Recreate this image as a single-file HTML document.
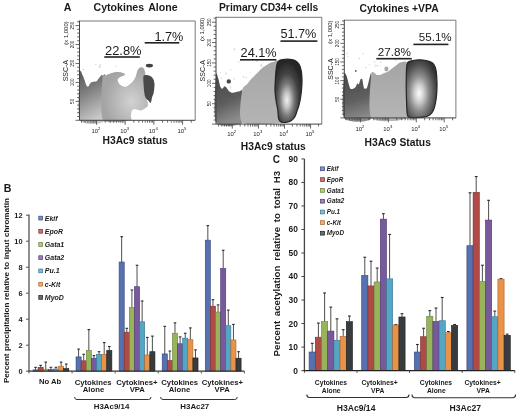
<!DOCTYPE html>
<html><head><meta charset="utf-8">
<style>
html,body{margin:0;padding:0;background:#fff;}
body{width:520px;height:413px;overflow:hidden;position:relative;}
svg{position:absolute;left:0;top:0;filter:blur(0.3px);}
.tb{font-family:"Liberation Sans",sans-serif;font-weight:bold;fill:#1a1a1a;}
.tbi{font-family:"Liberation Sans",sans-serif;font-weight:bold;font-style:italic;fill:#1a1a1a;}
.tr{font-family:"Liberation Sans",sans-serif;fill:#1a1a1a;}
</style></head><body>
<svg width="520" height="413" viewBox="0 0 520 413">
<defs>
<linearGradient id="gdark1" x1="0" y1="0" x2="0.3" y2="1"><stop offset="0" stop-color="#555"/><stop offset="0.4" stop-color="#7a7a7a"/><stop offset="1" stop-color="#c8c8c8"/></linearGradient>
<radialGradient id="glight1" cx="0.65" cy="0.62" r="0.6"><stop offset="0" stop-color="#d2d2d2"/><stop offset="1" stop-color="#a4a4a4"/></radialGradient>
<linearGradient id="gdark2" x1="0" y1="0" x2="0.25" y2="1"><stop offset="0" stop-color="#464646"/><stop offset="0.6" stop-color="#5c5c5c"/><stop offset="1" stop-color="#8c8c8c"/></linearGradient>
<linearGradient id="glight2" x1="0" y1="0" x2="0" y2="1"><stop offset="0" stop-color="#a6a6a6"/><stop offset="1" stop-color="#b4b4b4"/></linearGradient>
<radialGradient id="gblob2" cx="0.45" cy="0.63" r="0.6" fx="0.44" fy="0.65"><stop offset="0" stop-color="#f0f0f0"/><stop offset="0.2" stop-color="#c4c4c4"/><stop offset="0.45" stop-color="#747474"/><stop offset="0.7" stop-color="#424242"/><stop offset="1" stop-color="#262626"/></radialGradient>
<linearGradient id="gdark3" x1="0" y1="0" x2="0.2" y2="1"><stop offset="0" stop-color="#4a4a4a"/><stop offset="0.6" stop-color="#5e5e5e"/><stop offset="1" stop-color="#8a8a8a"/></linearGradient>
<linearGradient id="glight3" x1="0" y1="0" x2="0" y2="1"><stop offset="0" stop-color="#a4a4a4"/><stop offset="1" stop-color="#b6b6b6"/></linearGradient>
<radialGradient id="gblob3" cx="0.42" cy="0.58" r="0.62" fx="0.42" fy="0.58"><stop offset="0" stop-color="#fbfbfb"/><stop offset="0.22" stop-color="#d4d4d4"/><stop offset="0.5" stop-color="#8c8c8c"/><stop offset="0.78" stop-color="#565656"/><stop offset="1" stop-color="#333"/></radialGradient>
<filter id="bl" x="-5%" y="-5%" width="110%" height="110%"><feGaussianBlur stdDeviation="0.5"/></filter>
</defs>
<text x="63.8" y="11" class="tb" font-size="10.6">A</text>
<text x="93.5" y="11.3" class="tb" font-size="10.6" word-spacing="1.5">Cytokines Alone</text>
<text x="219" y="11.4" class="tb" font-size="10.3">Primary CD34+ cells</text>
<text x="359.5" y="11.8" class="tb" font-size="10.4">Cytokines +VPA</text>
<g><circle cx="230.9" cy="69.8" r="0.65" fill="#d6d6d6"/><circle cx="250.6" cy="73.0" r="0.53" fill="#d6d6d6"/><circle cx="218.7" cy="81.5" r="0.60" fill="#d6d6d6"/><circle cx="230.7" cy="87.8" r="0.69" fill="#d6d6d6"/><circle cx="263.2" cy="67.1" r="0.76" fill="#d6d6d6"/><circle cx="226.1" cy="73.4" r="0.85" fill="#d6d6d6"/><circle cx="246.3" cy="77.7" r="0.77" fill="#d6d6d6"/><circle cx="221.5" cy="78.3" r="0.74" fill="#d6d6d6"/><circle cx="234.3" cy="49.2" r="0.85" fill="#d6d6d6"/><circle cx="243.5" cy="76.8" r="0.85" fill="#d6d6d6"/><circle cx="256.6" cy="84.8" r="0.66" fill="#d6d6d6"/><circle cx="261.2" cy="65.8" r="0.87" fill="#d6d6d6"/><circle cx="265.5" cy="51.9" r="0.55" fill="#d6d6d6"/><circle cx="229.7" cy="86.6" r="0.67" fill="#d6d6d6"/><circle cx="251.8" cy="60.0" r="0.70" fill="#d6d6d6"/><circle cx="238.8" cy="62.0" r="0.73" fill="#d6d6d6"/><circle cx="249.5" cy="84.2" r="0.77" fill="#d6d6d6"/><circle cx="268.2" cy="82.3" r="0.90" fill="#d6d6d6"/><circle cx="254.2" cy="54.5" r="0.84" fill="#d6d6d6"/><circle cx="270.1" cy="84.2" r="0.73" fill="#d6d6d6"/><circle cx="256.5" cy="56.4" r="0.83" fill="#d6d6d6"/><circle cx="249.0" cy="59.4" r="0.53" fill="#d6d6d6"/><circle cx="264.1" cy="87.6" r="0.54" fill="#d6d6d6"/><circle cx="261.2" cy="64.4" r="0.56" fill="#d6d6d6"/><circle cx="233.9" cy="78.8" r="0.85" fill="#d6d6d6"/><circle cx="220.4" cy="72.6" r="0.52" fill="#d6d6d6"/><circle cx="256.8" cy="61.2" r="0.85" fill="#d6d6d6"/><circle cx="271.0" cy="68.2" r="0.90" fill="#d6d6d6"/><circle cx="363.3" cy="53.7" r="0.74" fill="#d6d6d6"/><circle cx="347.8" cy="56.3" r="0.66" fill="#d6d6d6"/><circle cx="380.2" cy="55.4" r="0.52" fill="#d6d6d6"/><circle cx="394.6" cy="58.9" r="0.88" fill="#d6d6d6"/><circle cx="396.2" cy="60.3" r="0.68" fill="#d6d6d6"/><circle cx="375.1" cy="66.2" r="0.74" fill="#d6d6d6"/><circle cx="377.3" cy="65.6" r="0.88" fill="#d6d6d6"/><circle cx="374.4" cy="61.5" r="0.79" fill="#d6d6d6"/><circle cx="359.3" cy="58.6" r="0.89" fill="#d6d6d6"/><circle cx="375.2" cy="64.1" r="0.50" fill="#d6d6d6"/><circle cx="369.3" cy="64.8" r="0.51" fill="#d6d6d6"/><circle cx="380.5" cy="65.9" r="0.52" fill="#d6d6d6"/><circle cx="381.1" cy="62.3" r="0.77" fill="#d6d6d6"/><circle cx="365.7" cy="67.6" r="0.80" fill="#d6d6d6"/><circle cx="347.2" cy="53.3" r="0.77" fill="#d6d6d6"/><circle cx="399.9" cy="57.5" r="0.68" fill="#d6d6d6"/><circle cx="116.4" cy="66.2" r="0.65" fill="#d6d6d6"/><circle cx="100.1" cy="66.8" r="0.74" fill="#d6d6d6"/><circle cx="99.4" cy="66.9" r="0.81" fill="#d6d6d6"/><circle cx="83.6" cy="69.4" r="0.79" fill="#d6d6d6"/><circle cx="100.0" cy="64.9" r="0.82" fill="#d6d6d6"/><circle cx="95.8" cy="64.4" r="0.67" fill="#d6d6d6"/></g>
<g filter="url(#bl)">
<path d="M80.00,72.60 C80.29,67.35 81.97,74.14 82.50,75.00 C83.03,75.86 84.09,78.89 84.50,80.00 C84.91,81.11 85.59,83.71 86.00,84.50 C86.41,85.29 87.47,86.97 88.00,86.80 C88.53,86.62 89.92,83.58 90.50,83.00 C91.08,82.42 92.30,82.00 93.00,81.80 C93.70,81.60 95.80,81.74 96.50,81.30 C97.20,80.86 98.42,78.71 99.00,78.00 C99.58,77.29 100.97,75.48 101.50,75.20 C102.03,74.92 103.09,75.44 103.50,75.60 C103.91,75.76 104.77,71.42 105.00,76.60 C105.23,81.78 108.42,114.94 105.50,120.00 C102.58,125.06 82.97,125.53 80.00,120.00 C77.03,114.47 79.71,77.85 80.00,72.60 Z" fill="url(#gdark1)"/>
<path d="M102.50,77.00 C102.67,71.84 103.68,76.17 104.50,75.80 C105.32,75.43 108.17,74.24 109.50,73.80 C110.83,73.36 114.61,72.17 115.90,72.00 C117.20,71.83 119.54,72.07 120.60,72.30 C121.66,72.53 124.64,73.59 125.00,74.00 C125.36,74.41 124.34,75.40 123.70,75.80 C123.06,76.20 120.21,76.95 119.50,77.40 C118.79,77.86 117.66,78.99 117.60,79.70 C117.54,80.41 118.46,82.77 119.00,83.50 C119.54,84.23 121.47,85.61 122.20,86.00 C122.94,86.39 124.56,86.89 125.30,86.80 C126.03,86.71 127.67,85.76 128.50,85.20 C129.33,84.64 131.58,82.96 132.40,82.00 C133.22,81.04 134.91,78.34 135.50,77.00 C136.09,75.66 136.94,71.63 137.50,70.50 C138.06,69.37 139.60,67.60 140.30,67.30 C141.00,67.00 142.93,67.28 143.50,67.90 C144.07,68.52 144.97,70.60 145.20,72.60 C145.43,74.59 145.35,82.04 145.50,85.00 C145.65,87.96 146.23,95.90 146.50,98.00 C146.77,100.10 147.70,102.01 147.80,103.00 C147.91,103.99 148.19,105.62 147.40,106.50 C146.61,107.38 142.47,110.21 141.00,110.50 C139.53,110.79 135.87,108.97 134.80,109.00 C133.73,109.03 132.27,109.89 131.80,110.80 C131.33,111.71 130.98,115.73 130.80,116.80 C130.62,117.87 133.54,119.63 130.30,120.00 C127.06,120.37 106.24,125.02 103.00,120.00 C99.76,114.98 102.33,82.16 102.50,77.00 Z" fill="url(#glight1)"/>
<path d="M143.50,76.00 C143.97,74.93 146.00,74.93 147.00,75.00 C148.00,75.07 150.13,75.90 151.00,76.50 C151.87,77.10 153.03,78.50 153.50,79.50 C153.97,80.50 154.41,82.73 154.50,84.00 C154.59,85.27 154.33,87.73 154.20,89.00 C154.07,90.27 153.79,92.37 153.50,93.50 C153.21,94.63 152.27,96.57 152.00,97.50 C151.73,98.43 151.73,99.77 151.50,100.50 C151.27,101.23 150.66,102.93 150.30,103.00 C149.94,103.07 149.31,101.53 148.80,101.00 C148.29,100.47 147.03,99.73 146.50,99.00 C145.97,98.27 145.13,96.70 144.80,95.50 C144.47,94.30 144.17,91.67 144.00,90.00 C143.83,88.33 143.57,84.87 143.50,83.00 C143.43,81.13 143.03,77.07 143.50,76.00 Z" fill="#4a4a4a"/>
<ellipse cx="149.4" cy="65.6" rx="3.6" ry="1.9" fill="#3f3f3f"/>
</g>
<g filter="url(#bl)">
<path d="M216.00,75.10 C216.26,69.95 217.70,76.95 218.20,78.30 C218.70,79.65 219.81,85.48 220.30,86.70 C220.79,87.92 221.91,88.85 222.40,88.80 C222.89,88.75 224.01,86.42 224.50,86.30 C224.99,86.18 226.10,87.25 226.60,87.80 C227.10,88.35 228.18,90.43 228.80,91.00 C229.42,91.57 231.04,92.58 231.90,92.70 C232.76,92.82 235.21,92.20 236.20,92.00 C237.19,91.80 239.68,91.07 240.40,91.00 C241.12,90.93 242.14,87.74 242.40,91.40 C242.66,95.06 245.68,118.78 242.60,122.40 C239.52,126.02 219.10,127.92 216.00,122.40 C212.90,116.88 215.74,80.24 216.00,75.10 Z" fill="url(#gdark2)"/>
<path d="M242.10,91.00 C242.61,86.59 245.54,86.08 246.70,84.60 C247.85,83.12 250.76,79.65 252.00,78.30 C253.24,76.95 256.19,74.11 257.30,73.00 C258.41,71.89 260.51,69.66 261.50,68.80 C262.49,67.94 264.81,66.28 265.80,65.60 C266.79,64.92 269.02,63.44 270.00,63.00 C270.98,62.56 273.21,61.99 274.20,61.80 C275.19,61.61 278.06,59.28 278.50,61.40 C278.94,63.52 278.12,75.50 278.00,80.00 C277.88,84.50 277.38,96.27 277.50,100.00 C277.62,103.73 278.48,109.39 279.00,112.00 C279.52,114.61 286.28,121.19 282.00,122.40 C277.72,123.61 246.96,126.06 242.30,122.40 C237.65,118.74 241.59,95.41 242.10,91.00 Z" fill="url(#glight2)"/>
<path d="M278.00,61.50 C279.12,60.08 281.00,59.87 283.00,59.50 C285.00,59.13 287.92,59.08 290.00,59.30 C292.08,59.52 293.97,59.93 295.50,60.80 C297.03,61.67 298.23,62.80 299.20,64.50 C300.17,66.20 300.83,68.42 301.30,71.00 C301.77,73.58 301.95,77.00 302.00,80.00 C302.05,83.00 301.83,86.08 301.60,89.00 C301.37,91.92 301.03,94.83 300.60,97.50 C300.17,100.17 299.60,102.75 299.00,105.00 C298.40,107.25 297.67,109.08 297.00,111.00 C296.33,112.92 295.92,114.92 295.00,116.50 C294.08,118.08 293.00,119.53 291.50,120.50 C290.00,121.47 287.75,122.05 286.00,122.30 C284.25,122.55 282.23,122.63 281.00,122.00 C279.77,121.37 279.13,120.50 278.60,118.50 C278.07,116.50 278.20,112.83 277.80,110.00 C277.40,107.17 276.67,104.67 276.20,101.50 C275.73,98.33 275.15,94.52 275.00,91.00 C274.85,87.48 275.08,84.23 275.30,80.40 C275.52,76.57 275.85,71.15 276.30,68.00 C276.75,64.85 276.88,62.92 278.00,61.50 Z" fill="url(#gblob2)" stroke="#262626" stroke-width="1.2"/>
<circle cx="228.8" cy="81.4" r="2.2" fill="#4a4a4a"/>
</g>
<g filter="url(#bl)">
<path d="M344.10,75.10 C344.40,70.22 346.21,75.34 346.70,76.20 C347.19,77.06 347.86,81.03 348.30,82.50 C348.74,83.97 349.88,88.11 350.50,88.80 C351.12,89.49 352.98,88.65 353.60,88.40 C354.22,88.16 355.38,87.26 355.80,86.70 C356.22,86.14 356.84,83.89 357.20,83.60 C357.56,83.31 358.50,84.70 358.90,84.20 C359.30,83.70 360.20,79.87 360.60,79.30 C361.00,78.73 362.00,78.68 362.30,79.30 C362.60,79.92 362.98,83.54 363.20,84.60 C363.42,85.66 363.76,88.03 364.20,88.40 C364.64,88.77 366.38,88.98 367.00,87.80 C367.62,86.62 368.99,79.85 369.50,78.30 C370.01,76.75 371.11,69.87 371.40,74.50 C371.69,79.13 375.19,112.92 372.00,118.00 C368.81,123.08 347.36,123.00 344.10,118.00 C340.85,113.00 343.80,79.98 344.10,75.10 Z" fill="url(#gdark3)"/>
<path d="M371.40,74.00 C372.02,69.00 375.77,75.04 376.90,75.10 C378.03,75.16 380.24,74.75 381.10,74.50 C381.96,74.25 383.55,73.30 384.30,73.00 C385.05,72.70 386.64,72.39 387.50,71.90 C388.36,71.41 390.71,69.53 391.70,68.80 C392.69,68.06 395.14,66.28 396.00,65.60 C396.86,64.92 398.25,63.44 399.10,63.00 C399.95,62.56 402.40,61.74 403.30,61.80 C404.20,61.86 406.43,60.21 406.80,63.50 C407.17,66.79 406.48,83.64 406.50,90.00 C406.52,96.36 411.07,114.73 407.00,118.00 C402.93,121.27 375.75,123.13 371.60,118.00 C367.45,112.87 370.78,79.00 371.40,74.00 Z" fill="url(#glight3)"/>
<path d="M407.00,64.00 C407.72,60.50 409.00,61.67 410.50,61.00 C412.00,60.33 413.92,60.17 416.00,60.00 C418.08,59.83 420.83,59.80 423.00,60.00 C425.17,60.20 427.33,60.62 429.00,61.20 C430.67,61.78 431.92,62.37 433.00,63.50 C434.08,64.63 434.90,66.08 435.50,68.00 C436.10,69.92 436.35,72.33 436.60,75.00 C436.85,77.67 436.97,81.17 437.00,84.00 C437.03,86.83 436.97,89.33 436.80,92.00 C436.63,94.67 436.38,97.50 436.00,100.00 C435.62,102.50 435.08,105.00 434.50,107.00 C433.92,109.00 433.42,110.58 432.50,112.00 C431.58,113.42 430.58,114.63 429.00,115.50 C427.42,116.37 425.33,116.85 423.00,117.20 C420.67,117.55 417.25,117.57 415.00,117.60 C412.75,117.63 410.78,117.92 409.50,117.40 C408.22,116.88 407.80,117.40 407.30,114.50 C406.80,111.60 406.68,105.42 406.50,100.00 C406.32,94.58 406.12,88.00 406.20,82.00 C406.28,76.00 406.28,67.50 407.00,64.00 Z" fill="url(#gblob3)" stroke="#262626" stroke-width="1.2"/>
<ellipse cx="386.4" cy="69" rx="2.1" ry="2.4" fill="#aaa"/>
<circle cx="355.8" cy="70.9" r="0.9" fill="#555"/>
</g>
<path d="M79.5,21 L195.2,21 L195.2,120.3" fill="none" stroke="#7a7a7a" stroke-width="1"/>
<line x1="79.5" y1="20.5" x2="79.5" y2="120.3" stroke="#444" stroke-width="1"/>
<line x1="79.5" y1="120.3" x2="195.2" y2="120.3" stroke="#444" stroke-width="1"/>
<line x1="75.50" y1="120.30" x2="79.5" y2="120.30" stroke="#444" stroke-width="0.8"/>
<line x1="77.10" y1="116.51" x2="79.5" y2="116.51" stroke="#444" stroke-width="0.8"/>
<line x1="77.10" y1="112.72" x2="79.5" y2="112.72" stroke="#444" stroke-width="0.8"/>
<line x1="77.10" y1="108.93" x2="79.5" y2="108.93" stroke="#444" stroke-width="0.8"/>
<line x1="77.10" y1="105.14" x2="79.5" y2="105.14" stroke="#444" stroke-width="0.8"/>
<line x1="75.50" y1="101.35" x2="79.5" y2="101.35" stroke="#444" stroke-width="0.8"/>
<line x1="77.10" y1="97.56" x2="79.5" y2="97.56" stroke="#444" stroke-width="0.8"/>
<line x1="77.10" y1="93.77" x2="79.5" y2="93.77" stroke="#444" stroke-width="0.8"/>
<line x1="77.10" y1="89.98" x2="79.5" y2="89.98" stroke="#444" stroke-width="0.8"/>
<line x1="77.10" y1="86.19" x2="79.5" y2="86.19" stroke="#444" stroke-width="0.8"/>
<line x1="75.50" y1="82.40" x2="79.5" y2="82.40" stroke="#444" stroke-width="0.8"/>
<line x1="77.10" y1="78.61" x2="79.5" y2="78.61" stroke="#444" stroke-width="0.8"/>
<line x1="77.10" y1="74.82" x2="79.5" y2="74.82" stroke="#444" stroke-width="0.8"/>
<line x1="77.10" y1="71.03" x2="79.5" y2="71.03" stroke="#444" stroke-width="0.8"/>
<line x1="77.10" y1="67.24" x2="79.5" y2="67.24" stroke="#444" stroke-width="0.8"/>
<line x1="75.50" y1="63.45" x2="79.5" y2="63.45" stroke="#444" stroke-width="0.8"/>
<line x1="77.10" y1="59.66" x2="79.5" y2="59.66" stroke="#444" stroke-width="0.8"/>
<line x1="77.10" y1="55.87" x2="79.5" y2="55.87" stroke="#444" stroke-width="0.8"/>
<line x1="77.10" y1="52.08" x2="79.5" y2="52.08" stroke="#444" stroke-width="0.8"/>
<line x1="77.10" y1="48.29" x2="79.5" y2="48.29" stroke="#444" stroke-width="0.8"/>
<line x1="75.50" y1="44.50" x2="79.5" y2="44.50" stroke="#444" stroke-width="0.8"/>
<line x1="77.10" y1="40.71" x2="79.5" y2="40.71" stroke="#444" stroke-width="0.8"/>
<line x1="77.10" y1="36.92" x2="79.5" y2="36.92" stroke="#444" stroke-width="0.8"/>
<line x1="77.10" y1="33.13" x2="79.5" y2="33.13" stroke="#444" stroke-width="0.8"/>
<line x1="77.10" y1="29.34" x2="79.5" y2="29.34" stroke="#444" stroke-width="0.8"/>
<line x1="75.50" y1="25.55" x2="79.5" y2="25.55" stroke="#444" stroke-width="0.8"/>
<line x1="77.10" y1="21.76" x2="79.5" y2="21.76" stroke="#444" stroke-width="0.8"/>
<text transform="translate(74.30,101.35) rotate(-90)" class="tr" font-size="4.6" text-anchor="middle" fill="#222">50</text>
<text transform="translate(74.30,82.40) rotate(-90)" class="tr" font-size="4.6" text-anchor="middle" fill="#222">100</text>
<text transform="translate(74.30,63.45) rotate(-90)" class="tr" font-size="4.6" text-anchor="middle" fill="#222">150</text>
<text transform="translate(74.30,44.50) rotate(-90)" class="tr" font-size="4.6" text-anchor="middle" fill="#222">200</text>
<text transform="translate(74.30,25.55) rotate(-90)" class="tr" font-size="4.6" text-anchor="middle" fill="#222">250</text>
<line x1="81.49" y1="120.3" x2="81.49" y2="122.7" stroke="#444" stroke-width="0.8"/>
<line x1="85.08" y1="120.3" x2="85.08" y2="122.7" stroke="#444" stroke-width="0.8"/>
<line x1="87.86" y1="120.3" x2="87.86" y2="122.7" stroke="#444" stroke-width="0.8"/>
<line x1="90.13" y1="120.3" x2="90.13" y2="122.7" stroke="#444" stroke-width="0.8"/>
<line x1="92.05" y1="120.3" x2="92.05" y2="122.7" stroke="#444" stroke-width="0.8"/>
<line x1="93.72" y1="120.3" x2="93.72" y2="122.7" stroke="#444" stroke-width="0.8"/>
<line x1="95.19" y1="120.3" x2="95.19" y2="122.7" stroke="#444" stroke-width="0.8"/>
<line x1="96.50" y1="120.3" x2="96.50" y2="124.8" stroke="#444" stroke-width="0.8"/>
<line x1="105.14" y1="120.3" x2="105.14" y2="122.7" stroke="#444" stroke-width="0.8"/>
<line x1="110.19" y1="120.3" x2="110.19" y2="122.7" stroke="#444" stroke-width="0.8"/>
<line x1="113.78" y1="120.3" x2="113.78" y2="122.7" stroke="#444" stroke-width="0.8"/>
<line x1="116.56" y1="120.3" x2="116.56" y2="122.7" stroke="#444" stroke-width="0.8"/>
<line x1="118.83" y1="120.3" x2="118.83" y2="122.7" stroke="#444" stroke-width="0.8"/>
<line x1="120.75" y1="120.3" x2="120.75" y2="122.7" stroke="#444" stroke-width="0.8"/>
<line x1="122.42" y1="120.3" x2="122.42" y2="122.7" stroke="#444" stroke-width="0.8"/>
<line x1="123.89" y1="120.3" x2="123.89" y2="122.7" stroke="#444" stroke-width="0.8"/>
<line x1="125.20" y1="120.3" x2="125.20" y2="124.8" stroke="#444" stroke-width="0.8"/>
<line x1="133.84" y1="120.3" x2="133.84" y2="122.7" stroke="#444" stroke-width="0.8"/>
<line x1="138.89" y1="120.3" x2="138.89" y2="122.7" stroke="#444" stroke-width="0.8"/>
<line x1="142.48" y1="120.3" x2="142.48" y2="122.7" stroke="#444" stroke-width="0.8"/>
<line x1="145.26" y1="120.3" x2="145.26" y2="122.7" stroke="#444" stroke-width="0.8"/>
<line x1="147.53" y1="120.3" x2="147.53" y2="122.7" stroke="#444" stroke-width="0.8"/>
<line x1="149.45" y1="120.3" x2="149.45" y2="122.7" stroke="#444" stroke-width="0.8"/>
<line x1="151.12" y1="120.3" x2="151.12" y2="122.7" stroke="#444" stroke-width="0.8"/>
<line x1="152.59" y1="120.3" x2="152.59" y2="122.7" stroke="#444" stroke-width="0.8"/>
<line x1="153.90" y1="120.3" x2="153.90" y2="124.8" stroke="#444" stroke-width="0.8"/>
<line x1="162.54" y1="120.3" x2="162.54" y2="122.7" stroke="#444" stroke-width="0.8"/>
<line x1="167.59" y1="120.3" x2="167.59" y2="122.7" stroke="#444" stroke-width="0.8"/>
<line x1="171.18" y1="120.3" x2="171.18" y2="122.7" stroke="#444" stroke-width="0.8"/>
<line x1="173.96" y1="120.3" x2="173.96" y2="122.7" stroke="#444" stroke-width="0.8"/>
<line x1="176.23" y1="120.3" x2="176.23" y2="122.7" stroke="#444" stroke-width="0.8"/>
<line x1="178.15" y1="120.3" x2="178.15" y2="122.7" stroke="#444" stroke-width="0.8"/>
<line x1="179.82" y1="120.3" x2="179.82" y2="122.7" stroke="#444" stroke-width="0.8"/>
<line x1="181.29" y1="120.3" x2="181.29" y2="122.7" stroke="#444" stroke-width="0.8"/>
<line x1="182.60" y1="120.3" x2="182.60" y2="124.8" stroke="#444" stroke-width="0.8"/>
<line x1="191.24" y1="120.3" x2="191.24" y2="122.7" stroke="#444" stroke-width="0.8"/>
<text x="95.90" y="132.70" class="tr" font-size="5.9" text-anchor="middle" fill="#222">10<tspan font-size="4.2" dy="-3">2</tspan></text>
<text x="124.60" y="132.70" class="tr" font-size="5.9" text-anchor="middle" fill="#222">10<tspan font-size="4.2" dy="-3">3</tspan></text>
<text x="153.30" y="132.70" class="tr" font-size="5.9" text-anchor="middle" fill="#222">10<tspan font-size="4.2" dy="-3">4</tspan></text>
<text x="182.00" y="132.70" class="tr" font-size="5.9" text-anchor="middle" fill="#222">10<tspan font-size="4.2" dy="-3">5</tspan></text>
<text transform="translate(68.20,70.65) rotate(-90)" class="tr" font-size="7" text-anchor="middle" fill="#444">SSC-A</text>
<text transform="translate(67.50,33.00) rotate(-90)" class="tr" font-size="5.9" text-anchor="middle" fill="#444">(x 1,000)</text>
<path d="M216,17.3 L321.8,17.3 L321.8,124.1" fill="none" stroke="#7a7a7a" stroke-width="1"/>
<line x1="216" y1="16.8" x2="216" y2="124.1" stroke="#444" stroke-width="1"/>
<line x1="216" y1="124.1" x2="321.8" y2="124.1" stroke="#444" stroke-width="1"/>
<line x1="212.00" y1="124.10" x2="216" y2="124.10" stroke="#444" stroke-width="0.8"/>
<line x1="213.60" y1="120.02" x2="216" y2="120.02" stroke="#444" stroke-width="0.8"/>
<line x1="213.60" y1="115.95" x2="216" y2="115.95" stroke="#444" stroke-width="0.8"/>
<line x1="213.60" y1="111.87" x2="216" y2="111.87" stroke="#444" stroke-width="0.8"/>
<line x1="213.60" y1="107.79" x2="216" y2="107.79" stroke="#444" stroke-width="0.8"/>
<line x1="212.00" y1="103.72" x2="216" y2="103.72" stroke="#444" stroke-width="0.8"/>
<line x1="213.60" y1="99.64" x2="216" y2="99.64" stroke="#444" stroke-width="0.8"/>
<line x1="213.60" y1="95.57" x2="216" y2="95.57" stroke="#444" stroke-width="0.8"/>
<line x1="213.60" y1="91.49" x2="216" y2="91.49" stroke="#444" stroke-width="0.8"/>
<line x1="213.60" y1="87.41" x2="216" y2="87.41" stroke="#444" stroke-width="0.8"/>
<line x1="212.00" y1="83.34" x2="216" y2="83.34" stroke="#444" stroke-width="0.8"/>
<line x1="213.60" y1="79.26" x2="216" y2="79.26" stroke="#444" stroke-width="0.8"/>
<line x1="213.60" y1="75.18" x2="216" y2="75.18" stroke="#444" stroke-width="0.8"/>
<line x1="213.60" y1="71.11" x2="216" y2="71.11" stroke="#444" stroke-width="0.8"/>
<line x1="213.60" y1="67.03" x2="216" y2="67.03" stroke="#444" stroke-width="0.8"/>
<line x1="212.00" y1="62.95" x2="216" y2="62.95" stroke="#444" stroke-width="0.8"/>
<line x1="213.60" y1="58.88" x2="216" y2="58.88" stroke="#444" stroke-width="0.8"/>
<line x1="213.60" y1="54.80" x2="216" y2="54.80" stroke="#444" stroke-width="0.8"/>
<line x1="213.60" y1="50.73" x2="216" y2="50.73" stroke="#444" stroke-width="0.8"/>
<line x1="213.60" y1="46.65" x2="216" y2="46.65" stroke="#444" stroke-width="0.8"/>
<line x1="212.00" y1="42.57" x2="216" y2="42.57" stroke="#444" stroke-width="0.8"/>
<line x1="213.60" y1="38.50" x2="216" y2="38.50" stroke="#444" stroke-width="0.8"/>
<line x1="213.60" y1="34.42" x2="216" y2="34.42" stroke="#444" stroke-width="0.8"/>
<line x1="213.60" y1="30.34" x2="216" y2="30.34" stroke="#444" stroke-width="0.8"/>
<line x1="213.60" y1="26.27" x2="216" y2="26.27" stroke="#444" stroke-width="0.8"/>
<line x1="212.00" y1="22.19" x2="216" y2="22.19" stroke="#444" stroke-width="0.8"/>
<line x1="213.60" y1="18.12" x2="216" y2="18.12" stroke="#444" stroke-width="0.8"/>
<text transform="translate(210.80,103.72) rotate(-90)" class="tr" font-size="4.6" text-anchor="middle" fill="#222">50</text>
<text transform="translate(210.80,83.34) rotate(-90)" class="tr" font-size="4.6" text-anchor="middle" fill="#222">100</text>
<text transform="translate(210.80,62.95) rotate(-90)" class="tr" font-size="4.6" text-anchor="middle" fill="#222">150</text>
<text transform="translate(210.80,42.57) rotate(-90)" class="tr" font-size="4.6" text-anchor="middle" fill="#222">200</text>
<text transform="translate(210.80,22.19) rotate(-90)" class="tr" font-size="4.6" text-anchor="middle" fill="#222">250</text>
<line x1="218.65" y1="124.1" x2="218.65" y2="126.5" stroke="#444" stroke-width="0.8"/>
<line x1="221.91" y1="124.1" x2="221.91" y2="126.5" stroke="#444" stroke-width="0.8"/>
<line x1="224.44" y1="124.1" x2="224.44" y2="126.5" stroke="#444" stroke-width="0.8"/>
<line x1="226.51" y1="124.1" x2="226.51" y2="126.5" stroke="#444" stroke-width="0.8"/>
<line x1="228.26" y1="124.1" x2="228.26" y2="126.5" stroke="#444" stroke-width="0.8"/>
<line x1="229.77" y1="124.1" x2="229.77" y2="126.5" stroke="#444" stroke-width="0.8"/>
<line x1="231.11" y1="124.1" x2="231.11" y2="126.5" stroke="#444" stroke-width="0.8"/>
<line x1="232.30" y1="124.1" x2="232.30" y2="128.6" stroke="#444" stroke-width="0.8"/>
<line x1="240.16" y1="124.1" x2="240.16" y2="126.5" stroke="#444" stroke-width="0.8"/>
<line x1="244.75" y1="124.1" x2="244.75" y2="126.5" stroke="#444" stroke-width="0.8"/>
<line x1="248.01" y1="124.1" x2="248.01" y2="126.5" stroke="#444" stroke-width="0.8"/>
<line x1="250.54" y1="124.1" x2="250.54" y2="126.5" stroke="#444" stroke-width="0.8"/>
<line x1="252.61" y1="124.1" x2="252.61" y2="126.5" stroke="#444" stroke-width="0.8"/>
<line x1="254.36" y1="124.1" x2="254.36" y2="126.5" stroke="#444" stroke-width="0.8"/>
<line x1="255.87" y1="124.1" x2="255.87" y2="126.5" stroke="#444" stroke-width="0.8"/>
<line x1="257.21" y1="124.1" x2="257.21" y2="126.5" stroke="#444" stroke-width="0.8"/>
<line x1="258.40" y1="124.1" x2="258.40" y2="128.6" stroke="#444" stroke-width="0.8"/>
<line x1="266.26" y1="124.1" x2="266.26" y2="126.5" stroke="#444" stroke-width="0.8"/>
<line x1="270.85" y1="124.1" x2="270.85" y2="126.5" stroke="#444" stroke-width="0.8"/>
<line x1="274.11" y1="124.1" x2="274.11" y2="126.5" stroke="#444" stroke-width="0.8"/>
<line x1="276.64" y1="124.1" x2="276.64" y2="126.5" stroke="#444" stroke-width="0.8"/>
<line x1="278.71" y1="124.1" x2="278.71" y2="126.5" stroke="#444" stroke-width="0.8"/>
<line x1="280.46" y1="124.1" x2="280.46" y2="126.5" stroke="#444" stroke-width="0.8"/>
<line x1="281.97" y1="124.1" x2="281.97" y2="126.5" stroke="#444" stroke-width="0.8"/>
<line x1="283.31" y1="124.1" x2="283.31" y2="126.5" stroke="#444" stroke-width="0.8"/>
<line x1="284.50" y1="124.1" x2="284.50" y2="128.6" stroke="#444" stroke-width="0.8"/>
<line x1="292.36" y1="124.1" x2="292.36" y2="126.5" stroke="#444" stroke-width="0.8"/>
<line x1="296.95" y1="124.1" x2="296.95" y2="126.5" stroke="#444" stroke-width="0.8"/>
<line x1="300.21" y1="124.1" x2="300.21" y2="126.5" stroke="#444" stroke-width="0.8"/>
<line x1="302.74" y1="124.1" x2="302.74" y2="126.5" stroke="#444" stroke-width="0.8"/>
<line x1="304.81" y1="124.1" x2="304.81" y2="126.5" stroke="#444" stroke-width="0.8"/>
<line x1="306.56" y1="124.1" x2="306.56" y2="126.5" stroke="#444" stroke-width="0.8"/>
<line x1="308.07" y1="124.1" x2="308.07" y2="126.5" stroke="#444" stroke-width="0.8"/>
<line x1="309.41" y1="124.1" x2="309.41" y2="126.5" stroke="#444" stroke-width="0.8"/>
<line x1="310.60" y1="124.1" x2="310.60" y2="128.6" stroke="#444" stroke-width="0.8"/>
<line x1="318.46" y1="124.1" x2="318.46" y2="126.5" stroke="#444" stroke-width="0.8"/>
<text x="231.70" y="135.70" class="tr" font-size="5.9" text-anchor="middle" fill="#222">10<tspan font-size="4.2" dy="-3">2</tspan></text>
<text x="257.80" y="135.70" class="tr" font-size="5.9" text-anchor="middle" fill="#222">10<tspan font-size="4.2" dy="-3">3</tspan></text>
<text x="283.80" y="135.70" class="tr" font-size="5.9" text-anchor="middle" fill="#222">10<tspan font-size="4.2" dy="-3">4</tspan></text>
<text x="309.90" y="135.70" class="tr" font-size="5.9" text-anchor="middle" fill="#222">10<tspan font-size="4.2" dy="-3">5</tspan></text>
<text transform="translate(204.70,70.70) rotate(-90)" class="tr" font-size="7" text-anchor="middle" fill="#444">SSC-A</text>
<text transform="translate(204.00,29.30) rotate(-90)" class="tr" font-size="5.9" text-anchor="middle" fill="#444">(x 1,000)</text>
<path d="M344.3,20.2 L455.9,20.2 L455.9,117.9" fill="none" stroke="#7a7a7a" stroke-width="1"/>
<line x1="344.3" y1="19.7" x2="344.3" y2="117.9" stroke="#444" stroke-width="1"/>
<line x1="344.3" y1="117.9" x2="455.9" y2="117.9" stroke="#444" stroke-width="1"/>
<line x1="340.30" y1="117.90" x2="344.3" y2="117.90" stroke="#444" stroke-width="0.8"/>
<line x1="341.90" y1="114.17" x2="344.3" y2="114.17" stroke="#444" stroke-width="0.8"/>
<line x1="341.90" y1="110.44" x2="344.3" y2="110.44" stroke="#444" stroke-width="0.8"/>
<line x1="341.90" y1="106.71" x2="344.3" y2="106.71" stroke="#444" stroke-width="0.8"/>
<line x1="341.90" y1="102.98" x2="344.3" y2="102.98" stroke="#444" stroke-width="0.8"/>
<line x1="340.30" y1="99.25" x2="344.3" y2="99.25" stroke="#444" stroke-width="0.8"/>
<line x1="341.90" y1="95.53" x2="344.3" y2="95.53" stroke="#444" stroke-width="0.8"/>
<line x1="341.90" y1="91.80" x2="344.3" y2="91.80" stroke="#444" stroke-width="0.8"/>
<line x1="341.90" y1="88.07" x2="344.3" y2="88.07" stroke="#444" stroke-width="0.8"/>
<line x1="341.90" y1="84.34" x2="344.3" y2="84.34" stroke="#444" stroke-width="0.8"/>
<line x1="340.30" y1="80.61" x2="344.3" y2="80.61" stroke="#444" stroke-width="0.8"/>
<line x1="341.90" y1="76.88" x2="344.3" y2="76.88" stroke="#444" stroke-width="0.8"/>
<line x1="341.90" y1="73.15" x2="344.3" y2="73.15" stroke="#444" stroke-width="0.8"/>
<line x1="341.90" y1="69.42" x2="344.3" y2="69.42" stroke="#444" stroke-width="0.8"/>
<line x1="341.90" y1="65.69" x2="344.3" y2="65.69" stroke="#444" stroke-width="0.8"/>
<line x1="340.30" y1="61.96" x2="344.3" y2="61.96" stroke="#444" stroke-width="0.8"/>
<line x1="341.90" y1="58.24" x2="344.3" y2="58.24" stroke="#444" stroke-width="0.8"/>
<line x1="341.90" y1="54.51" x2="344.3" y2="54.51" stroke="#444" stroke-width="0.8"/>
<line x1="341.90" y1="50.78" x2="344.3" y2="50.78" stroke="#444" stroke-width="0.8"/>
<line x1="341.90" y1="47.05" x2="344.3" y2="47.05" stroke="#444" stroke-width="0.8"/>
<line x1="340.30" y1="43.32" x2="344.3" y2="43.32" stroke="#444" stroke-width="0.8"/>
<line x1="341.90" y1="39.59" x2="344.3" y2="39.59" stroke="#444" stroke-width="0.8"/>
<line x1="341.90" y1="35.86" x2="344.3" y2="35.86" stroke="#444" stroke-width="0.8"/>
<line x1="341.90" y1="32.13" x2="344.3" y2="32.13" stroke="#444" stroke-width="0.8"/>
<line x1="341.90" y1="28.40" x2="344.3" y2="28.40" stroke="#444" stroke-width="0.8"/>
<line x1="340.30" y1="24.67" x2="344.3" y2="24.67" stroke="#444" stroke-width="0.8"/>
<line x1="341.90" y1="20.95" x2="344.3" y2="20.95" stroke="#444" stroke-width="0.8"/>
<text transform="translate(339.10,99.25) rotate(-90)" class="tr" font-size="4.6" text-anchor="middle" fill="#222">50</text>
<text transform="translate(339.10,80.61) rotate(-90)" class="tr" font-size="4.6" text-anchor="middle" fill="#222">100</text>
<text transform="translate(339.10,61.96) rotate(-90)" class="tr" font-size="4.6" text-anchor="middle" fill="#222">150</text>
<text transform="translate(339.10,43.32) rotate(-90)" class="tr" font-size="4.6" text-anchor="middle" fill="#222">200</text>
<text transform="translate(339.10,24.67) rotate(-90)" class="tr" font-size="4.6" text-anchor="middle" fill="#222">250</text>
<line x1="345.91" y1="117.9" x2="345.91" y2="120.30000000000001" stroke="#444" stroke-width="0.8"/>
<line x1="349.40" y1="117.9" x2="349.40" y2="120.30000000000001" stroke="#444" stroke-width="0.8"/>
<line x1="352.10" y1="117.9" x2="352.10" y2="120.30000000000001" stroke="#444" stroke-width="0.8"/>
<line x1="354.31" y1="117.9" x2="354.31" y2="120.30000000000001" stroke="#444" stroke-width="0.8"/>
<line x1="356.18" y1="117.9" x2="356.18" y2="120.30000000000001" stroke="#444" stroke-width="0.8"/>
<line x1="357.80" y1="117.9" x2="357.80" y2="120.30000000000001" stroke="#444" stroke-width="0.8"/>
<line x1="359.22" y1="117.9" x2="359.22" y2="120.30000000000001" stroke="#444" stroke-width="0.8"/>
<line x1="360.50" y1="117.9" x2="360.50" y2="122.4" stroke="#444" stroke-width="0.8"/>
<line x1="368.90" y1="117.9" x2="368.90" y2="120.30000000000001" stroke="#444" stroke-width="0.8"/>
<line x1="373.81" y1="117.9" x2="373.81" y2="120.30000000000001" stroke="#444" stroke-width="0.8"/>
<line x1="377.30" y1="117.9" x2="377.30" y2="120.30000000000001" stroke="#444" stroke-width="0.8"/>
<line x1="380.00" y1="117.9" x2="380.00" y2="120.30000000000001" stroke="#444" stroke-width="0.8"/>
<line x1="382.21" y1="117.9" x2="382.21" y2="120.30000000000001" stroke="#444" stroke-width="0.8"/>
<line x1="384.08" y1="117.9" x2="384.08" y2="120.30000000000001" stroke="#444" stroke-width="0.8"/>
<line x1="385.70" y1="117.9" x2="385.70" y2="120.30000000000001" stroke="#444" stroke-width="0.8"/>
<line x1="387.12" y1="117.9" x2="387.12" y2="120.30000000000001" stroke="#444" stroke-width="0.8"/>
<line x1="388.40" y1="117.9" x2="388.40" y2="122.4" stroke="#444" stroke-width="0.8"/>
<line x1="396.80" y1="117.9" x2="396.80" y2="120.30000000000001" stroke="#444" stroke-width="0.8"/>
<line x1="401.71" y1="117.9" x2="401.71" y2="120.30000000000001" stroke="#444" stroke-width="0.8"/>
<line x1="405.20" y1="117.9" x2="405.20" y2="120.30000000000001" stroke="#444" stroke-width="0.8"/>
<line x1="407.90" y1="117.9" x2="407.90" y2="120.30000000000001" stroke="#444" stroke-width="0.8"/>
<line x1="410.11" y1="117.9" x2="410.11" y2="120.30000000000001" stroke="#444" stroke-width="0.8"/>
<line x1="411.98" y1="117.9" x2="411.98" y2="120.30000000000001" stroke="#444" stroke-width="0.8"/>
<line x1="413.60" y1="117.9" x2="413.60" y2="120.30000000000001" stroke="#444" stroke-width="0.8"/>
<line x1="415.02" y1="117.9" x2="415.02" y2="120.30000000000001" stroke="#444" stroke-width="0.8"/>
<line x1="416.30" y1="117.9" x2="416.30" y2="122.4" stroke="#444" stroke-width="0.8"/>
<line x1="424.70" y1="117.9" x2="424.70" y2="120.30000000000001" stroke="#444" stroke-width="0.8"/>
<line x1="429.61" y1="117.9" x2="429.61" y2="120.30000000000001" stroke="#444" stroke-width="0.8"/>
<line x1="433.10" y1="117.9" x2="433.10" y2="120.30000000000001" stroke="#444" stroke-width="0.8"/>
<line x1="435.80" y1="117.9" x2="435.80" y2="120.30000000000001" stroke="#444" stroke-width="0.8"/>
<line x1="438.01" y1="117.9" x2="438.01" y2="120.30000000000001" stroke="#444" stroke-width="0.8"/>
<line x1="439.88" y1="117.9" x2="439.88" y2="120.30000000000001" stroke="#444" stroke-width="0.8"/>
<line x1="441.50" y1="117.9" x2="441.50" y2="120.30000000000001" stroke="#444" stroke-width="0.8"/>
<line x1="442.92" y1="117.9" x2="442.92" y2="120.30000000000001" stroke="#444" stroke-width="0.8"/>
<line x1="444.20" y1="117.9" x2="444.20" y2="122.4" stroke="#444" stroke-width="0.8"/>
<line x1="452.60" y1="117.9" x2="452.60" y2="120.30000000000001" stroke="#444" stroke-width="0.8"/>
<text x="359.90" y="130.70" class="tr" font-size="5.9" text-anchor="middle" fill="#222">10<tspan font-size="4.2" dy="-3">2</tspan></text>
<text x="387.80" y="130.70" class="tr" font-size="5.9" text-anchor="middle" fill="#222">10<tspan font-size="4.2" dy="-3">3</tspan></text>
<text x="415.70" y="130.70" class="tr" font-size="5.9" text-anchor="middle" fill="#222">10<tspan font-size="4.2" dy="-3">4</tspan></text>
<text x="443.60" y="130.70" class="tr" font-size="5.9" text-anchor="middle" fill="#222">10<tspan font-size="4.2" dy="-3">5</tspan></text>
<text transform="translate(333.00,69.05) rotate(-90)" class="tr" font-size="7" text-anchor="middle" fill="#444">SSC-A</text>
<text transform="translate(332.30,32.20) rotate(-90)" class="tr" font-size="5.9" text-anchor="middle" fill="#444">(x 1,000)</text>
<text x="105" y="54.8" class="tr" font-size="12.9" fill="#222">22.8%</text>
<rect x="104.3" y="56.2" width="35.5" height="1.6" fill="#222"/>
<text x="154.4" y="40.9" class="tr" font-size="12.7" fill="#222">1.7%</text>
<rect x="144.7" y="42" width="34.6" height="1.6" fill="#222"/>
<text x="240.6" y="57.2" class="tr" font-size="12.7" fill="#222">24.1%</text>
<rect x="240" y="59" width="36.4" height="1.6" fill="#222"/>
<text x="280.4" y="38.2" class="tr" font-size="12.7" fill="#222">51.7%</text>
<rect x="280.5" y="40.3" width="36.9" height="1.6" fill="#222"/>
<text x="377.7" y="55.8" class="tr" font-size="11.7" fill="#222">27.8%</text>
<rect x="376.3" y="57.9" width="35.5" height="1.6" fill="#222"/>
<text x="418.8" y="41.2" class="tr" font-size="11.6" fill="#222">55.1%</text>
<rect x="413.4" y="43.6" width="35" height="1.6" fill="#222"/>
<text x="102.5" y="143.9" class="tb" font-size="10.3">H3Ac9 status</text>
<text x="240.8" y="149.8" class="tb" font-size="10.26">H3Ac9 status</text>
<text x="364.5" y="145.5" class="tb" font-size="10.3">H3Ac9 Status</text>
<text x="3.8" y="191.5" class="tb" font-size="10.6">B</text>
<text transform="translate(9.2,383) rotate(-90)" class="tb" font-size="8.05" word-spacing="0.3">Percent precipitation relative to input chromatin</text>
<line x1="35.51" y1="369.90" x2="35.51" y2="367.30" stroke="#3a3a3a" stroke-width="0.9"/>
<line x1="34.21" y1="367.30" x2="36.81" y2="367.30" stroke="#2a2a2a" stroke-width="1.1"/>
<rect x="32.95" y="369.90" width="5.12" height="1.30" fill="#5670b0" stroke="#34477a" stroke-width="0.6"/>
<line x1="40.63" y1="367.30" x2="40.63" y2="365.35" stroke="#3a3a3a" stroke-width="0.9"/>
<line x1="39.33" y1="365.35" x2="41.93" y2="365.35" stroke="#2a2a2a" stroke-width="1.1"/>
<rect x="38.07" y="367.30" width="5.12" height="3.90" fill="#b04a46" stroke="#7a2e2b" stroke-width="0.6"/>
<line x1="45.75" y1="369.25" x2="45.75" y2="362.10" stroke="#3a3a3a" stroke-width="0.9"/>
<line x1="44.45" y1="362.10" x2="47.05" y2="362.10" stroke="#2a2a2a" stroke-width="1.1"/>
<rect x="43.19" y="369.25" width="5.12" height="1.95" fill="#98b45a" stroke="#66803a" stroke-width="0.6"/>
<line x1="50.87" y1="369.64" x2="50.87" y2="367.30" stroke="#3a3a3a" stroke-width="0.9"/>
<line x1="49.57" y1="367.30" x2="52.17" y2="367.30" stroke="#2a2a2a" stroke-width="1.1"/>
<rect x="48.31" y="369.64" width="5.12" height="1.56" fill="#78599c" stroke="#4d3670" stroke-width="0.6"/>
<line x1="55.99" y1="368.99" x2="55.99" y2="367.30" stroke="#3a3a3a" stroke-width="0.9"/>
<line x1="54.69" y1="367.30" x2="57.29" y2="367.30" stroke="#2a2a2a" stroke-width="1.1"/>
<rect x="53.43" y="368.99" width="5.12" height="2.21" fill="#55a5c4" stroke="#367590" stroke-width="0.6"/>
<line x1="61.11" y1="366.26" x2="61.11" y2="362.10" stroke="#3a3a3a" stroke-width="0.9"/>
<line x1="59.81" y1="362.10" x2="62.41" y2="362.10" stroke="#2a2a2a" stroke-width="1.1"/>
<rect x="58.55" y="366.26" width="5.12" height="4.94" fill="#ea9248" stroke="#a8642c" stroke-width="0.6"/>
<line x1="66.23" y1="368.60" x2="66.23" y2="364.05" stroke="#3a3a3a" stroke-width="0.9"/>
<line x1="64.93" y1="364.05" x2="67.53" y2="364.05" stroke="#2a2a2a" stroke-width="1.1"/>
<rect x="63.67" y="368.60" width="5.12" height="2.60" fill="#383c3e" stroke="#1c1e1e" stroke-width="0.6"/>
<line x1="78.59" y1="356.90" x2="78.59" y2="349.10" stroke="#3a3a3a" stroke-width="0.9"/>
<line x1="77.29" y1="349.10" x2="79.89" y2="349.10" stroke="#2a2a2a" stroke-width="1.1"/>
<rect x="76.03" y="356.90" width="5.12" height="14.30" fill="#5670b0" stroke="#34477a" stroke-width="0.6"/>
<line x1="83.71" y1="360.80" x2="83.71" y2="354.30" stroke="#3a3a3a" stroke-width="0.9"/>
<line x1="82.41" y1="354.30" x2="85.01" y2="354.30" stroke="#2a2a2a" stroke-width="1.1"/>
<rect x="81.15" y="360.80" width="5.12" height="10.40" fill="#b04a46" stroke="#7a2e2b" stroke-width="0.6"/>
<line x1="88.83" y1="350.40" x2="88.83" y2="329.60" stroke="#3a3a3a" stroke-width="0.9"/>
<line x1="87.53" y1="329.60" x2="90.13" y2="329.60" stroke="#2a2a2a" stroke-width="1.1"/>
<rect x="86.27" y="350.40" width="5.12" height="20.80" fill="#98b45a" stroke="#66803a" stroke-width="0.6"/>
<line x1="93.95" y1="358.20" x2="93.95" y2="355.60" stroke="#3a3a3a" stroke-width="0.9"/>
<line x1="92.65" y1="355.60" x2="95.25" y2="355.60" stroke="#2a2a2a" stroke-width="1.1"/>
<rect x="91.39" y="358.20" width="5.12" height="13.00" fill="#78599c" stroke="#4d3670" stroke-width="0.6"/>
<line x1="99.07" y1="354.30" x2="99.07" y2="351.70" stroke="#3a3a3a" stroke-width="0.9"/>
<line x1="97.77" y1="351.70" x2="100.37" y2="351.70" stroke="#2a2a2a" stroke-width="1.1"/>
<rect x="96.51" y="354.30" width="5.12" height="16.90" fill="#55a5c4" stroke="#367590" stroke-width="0.6"/>
<line x1="104.19" y1="354.30" x2="104.19" y2="342.60" stroke="#3a3a3a" stroke-width="0.9"/>
<line x1="102.89" y1="342.60" x2="105.49" y2="342.60" stroke="#2a2a2a" stroke-width="1.1"/>
<rect x="101.63" y="354.30" width="5.12" height="16.90" fill="#ea9248" stroke="#a8642c" stroke-width="0.6"/>
<line x1="109.31" y1="350.40" x2="109.31" y2="346.50" stroke="#3a3a3a" stroke-width="0.9"/>
<line x1="108.01" y1="346.50" x2="110.61" y2="346.50" stroke="#2a2a2a" stroke-width="1.1"/>
<rect x="106.75" y="350.40" width="5.12" height="20.80" fill="#383c3e" stroke="#1c1e1e" stroke-width="0.6"/>
<line x1="121.67" y1="262.00" x2="121.67" y2="236.65" stroke="#3a3a3a" stroke-width="0.9"/>
<line x1="120.37" y1="236.65" x2="122.97" y2="236.65" stroke="#2a2a2a" stroke-width="1.1"/>
<rect x="119.11" y="262.00" width="5.12" height="109.20" fill="#5670b0" stroke="#34477a" stroke-width="0.6"/>
<line x1="126.79" y1="332.20" x2="126.79" y2="328.30" stroke="#3a3a3a" stroke-width="0.9"/>
<line x1="125.49" y1="328.30" x2="128.09" y2="328.30" stroke="#2a2a2a" stroke-width="1.1"/>
<rect x="124.23" y="332.20" width="5.12" height="39.00" fill="#b04a46" stroke="#7a2e2b" stroke-width="0.6"/>
<line x1="131.91" y1="307.50" x2="131.91" y2="289.95" stroke="#3a3a3a" stroke-width="0.9"/>
<line x1="130.61" y1="289.95" x2="133.21" y2="289.95" stroke="#2a2a2a" stroke-width="1.1"/>
<rect x="129.35" y="307.50" width="5.12" height="63.70" fill="#98b45a" stroke="#66803a" stroke-width="0.6"/>
<line x1="137.03" y1="286.70" x2="137.03" y2="265.25" stroke="#3a3a3a" stroke-width="0.9"/>
<line x1="135.73" y1="265.25" x2="138.33" y2="265.25" stroke="#2a2a2a" stroke-width="1.1"/>
<rect x="134.47" y="286.70" width="5.12" height="84.50" fill="#78599c" stroke="#4d3670" stroke-width="0.6"/>
<line x1="142.15" y1="321.80" x2="142.15" y2="301.00" stroke="#3a3a3a" stroke-width="0.9"/>
<line x1="140.85" y1="301.00" x2="143.45" y2="301.00" stroke="#2a2a2a" stroke-width="1.1"/>
<rect x="139.59" y="321.80" width="5.12" height="49.40" fill="#55a5c4" stroke="#367590" stroke-width="0.6"/>
<line x1="147.27" y1="354.95" x2="147.27" y2="337.40" stroke="#3a3a3a" stroke-width="0.9"/>
<line x1="145.97" y1="337.40" x2="148.57" y2="337.40" stroke="#2a2a2a" stroke-width="1.1"/>
<rect x="144.71" y="354.95" width="5.12" height="16.25" fill="#ea9248" stroke="#a8642c" stroke-width="0.6"/>
<line x1="152.39" y1="351.70" x2="152.39" y2="336.10" stroke="#3a3a3a" stroke-width="0.9"/>
<line x1="151.09" y1="336.10" x2="153.69" y2="336.10" stroke="#2a2a2a" stroke-width="1.1"/>
<rect x="149.83" y="351.70" width="5.12" height="19.50" fill="#383c3e" stroke="#1c1e1e" stroke-width="0.6"/>
<line x1="164.75" y1="353.91" x2="164.75" y2="326.35" stroke="#3a3a3a" stroke-width="0.9"/>
<line x1="163.45" y1="326.35" x2="166.05" y2="326.35" stroke="#2a2a2a" stroke-width="1.1"/>
<rect x="162.19" y="353.91" width="5.12" height="17.29" fill="#5670b0" stroke="#34477a" stroke-width="0.6"/>
<line x1="169.87" y1="360.54" x2="169.87" y2="351.05" stroke="#3a3a3a" stroke-width="0.9"/>
<line x1="168.57" y1="351.05" x2="171.17" y2="351.05" stroke="#2a2a2a" stroke-width="1.1"/>
<rect x="167.31" y="360.54" width="5.12" height="10.66" fill="#b04a46" stroke="#7a2e2b" stroke-width="0.6"/>
<line x1="174.99" y1="333.24" x2="174.99" y2="322.84" stroke="#3a3a3a" stroke-width="0.9"/>
<line x1="173.69" y1="322.84" x2="176.29" y2="322.84" stroke="#2a2a2a" stroke-width="1.1"/>
<rect x="172.43" y="333.24" width="5.12" height="37.96" fill="#98b45a" stroke="#66803a" stroke-width="0.6"/>
<line x1="180.11" y1="343.77" x2="180.11" y2="336.88" stroke="#3a3a3a" stroke-width="0.9"/>
<line x1="178.81" y1="336.88" x2="181.41" y2="336.88" stroke="#2a2a2a" stroke-width="1.1"/>
<rect x="177.55" y="343.77" width="5.12" height="27.43" fill="#78599c" stroke="#4d3670" stroke-width="0.6"/>
<line x1="185.23" y1="338.18" x2="185.23" y2="333.24" stroke="#3a3a3a" stroke-width="0.9"/>
<line x1="183.93" y1="333.24" x2="186.53" y2="333.24" stroke="#2a2a2a" stroke-width="1.1"/>
<rect x="182.67" y="338.18" width="5.12" height="33.02" fill="#55a5c4" stroke="#367590" stroke-width="0.6"/>
<line x1="190.35" y1="339.74" x2="190.35" y2="327.91" stroke="#3a3a3a" stroke-width="0.9"/>
<line x1="189.05" y1="327.91" x2="191.65" y2="327.91" stroke="#2a2a2a" stroke-width="1.1"/>
<rect x="187.79" y="339.74" width="5.12" height="31.46" fill="#ea9248" stroke="#a8642c" stroke-width="0.6"/>
<line x1="195.47" y1="357.94" x2="195.47" y2="349.88" stroke="#3a3a3a" stroke-width="0.9"/>
<line x1="194.17" y1="349.88" x2="196.77" y2="349.88" stroke="#2a2a2a" stroke-width="1.1"/>
<rect x="192.91" y="357.94" width="5.12" height="13.26" fill="#383c3e" stroke="#1c1e1e" stroke-width="0.6"/>
<line x1="207.83" y1="240.16" x2="207.83" y2="225.60" stroke="#3a3a3a" stroke-width="0.9"/>
<line x1="206.53" y1="225.60" x2="209.13" y2="225.60" stroke="#2a2a2a" stroke-width="1.1"/>
<rect x="205.27" y="240.16" width="5.12" height="131.04" fill="#5670b0" stroke="#34477a" stroke-width="0.6"/>
<line x1="212.95" y1="306.20" x2="212.95" y2="299.70" stroke="#3a3a3a" stroke-width="0.9"/>
<line x1="211.65" y1="299.70" x2="214.25" y2="299.70" stroke="#2a2a2a" stroke-width="1.1"/>
<rect x="210.39" y="306.20" width="5.12" height="65.00" fill="#b04a46" stroke="#7a2e2b" stroke-width="0.6"/>
<line x1="218.07" y1="312.05" x2="218.07" y2="304.90" stroke="#3a3a3a" stroke-width="0.9"/>
<line x1="216.77" y1="304.90" x2="219.37" y2="304.90" stroke="#2a2a2a" stroke-width="1.1"/>
<rect x="215.51" y="312.05" width="5.12" height="59.15" fill="#98b45a" stroke="#66803a" stroke-width="0.6"/>
<line x1="223.19" y1="268.50" x2="223.19" y2="250.30" stroke="#3a3a3a" stroke-width="0.9"/>
<line x1="221.89" y1="250.30" x2="224.49" y2="250.30" stroke="#2a2a2a" stroke-width="1.1"/>
<rect x="220.63" y="268.50" width="5.12" height="102.70" fill="#78599c" stroke="#4d3670" stroke-width="0.6"/>
<line x1="228.31" y1="325.70" x2="228.31" y2="310.10" stroke="#3a3a3a" stroke-width="0.9"/>
<line x1="227.01" y1="310.10" x2="229.61" y2="310.10" stroke="#2a2a2a" stroke-width="1.1"/>
<rect x="225.75" y="325.70" width="5.12" height="45.50" fill="#55a5c4" stroke="#367590" stroke-width="0.6"/>
<line x1="233.43" y1="340.00" x2="233.43" y2="324.40" stroke="#3a3a3a" stroke-width="0.9"/>
<line x1="232.13" y1="324.40" x2="234.73" y2="324.40" stroke="#2a2a2a" stroke-width="1.1"/>
<rect x="230.87" y="340.00" width="5.12" height="31.20" fill="#ea9248" stroke="#a8642c" stroke-width="0.6"/>
<line x1="238.55" y1="358.20" x2="238.55" y2="351.70" stroke="#3a3a3a" stroke-width="0.9"/>
<line x1="237.25" y1="351.70" x2="239.85" y2="351.70" stroke="#2a2a2a" stroke-width="1.1"/>
<rect x="235.99" y="358.20" width="5.12" height="13.00" fill="#383c3e" stroke="#1c1e1e" stroke-width="0.6"/>
<line x1="29.0" y1="214.6" x2="29.0" y2="371.2" stroke="#555" stroke-width="1.3"/>
<line x1="28.4" y1="371.2" x2="244.39999999999998" y2="371.2" stroke="#333" stroke-width="1.3"/>
<line x1="26.0" y1="371.20" x2="29.0" y2="371.20" stroke="#555" stroke-width="1"/>
<text x="22.5" y="373.80" class="tb" font-size="7.4" text-anchor="end">0</text>
<line x1="26.0" y1="345.20" x2="29.0" y2="345.20" stroke="#555" stroke-width="1"/>
<text x="22.5" y="347.80" class="tb" font-size="7.4" text-anchor="end">2</text>
<line x1="26.0" y1="319.20" x2="29.0" y2="319.20" stroke="#555" stroke-width="1"/>
<text x="22.5" y="321.80" class="tb" font-size="7.4" text-anchor="end">4</text>
<line x1="26.0" y1="293.20" x2="29.0" y2="293.20" stroke="#555" stroke-width="1"/>
<text x="22.5" y="295.80" class="tb" font-size="7.4" text-anchor="end">6</text>
<line x1="26.0" y1="267.20" x2="29.0" y2="267.20" stroke="#555" stroke-width="1"/>
<text x="22.5" y="269.80" class="tb" font-size="7.4" text-anchor="end">8</text>
<line x1="26.0" y1="241.20" x2="29.0" y2="241.20" stroke="#555" stroke-width="1"/>
<text x="22.5" y="243.80" class="tb" font-size="7.4" text-anchor="end">10</text>
<line x1="26.0" y1="215.20" x2="29.0" y2="215.20" stroke="#555" stroke-width="1"/>
<text x="22.5" y="217.80" class="tb" font-size="7.4" text-anchor="end">12</text>
<line x1="29.00" y1="371.2" x2="29.00" y2="373.4" stroke="#555" stroke-width="1"/>
<line x1="72.08" y1="371.2" x2="72.08" y2="373.4" stroke="#555" stroke-width="1"/>
<line x1="115.16" y1="371.2" x2="115.16" y2="373.4" stroke="#555" stroke-width="1"/>
<line x1="158.24" y1="371.2" x2="158.24" y2="373.4" stroke="#555" stroke-width="1"/>
<line x1="201.32" y1="371.2" x2="201.32" y2="373.4" stroke="#555" stroke-width="1"/>
<line x1="244.40" y1="371.2" x2="244.40" y2="373.4" stroke="#555" stroke-width="1"/>
<rect x="38.8" y="216.20" width="3.8" height="3.8" fill="#5670b0" fill-opacity="0.75" stroke="#34477a" stroke-width="0.7"/>
<text x="44.8" y="220.60" class="tbi" font-size="7">Ekif</text>
<rect x="38.8" y="229.40" width="3.8" height="3.8" fill="#b04a46" fill-opacity="0.75" stroke="#7a2e2b" stroke-width="0.7"/>
<text x="44.8" y="233.80" class="tbi" font-size="7">EpoR</text>
<rect x="38.8" y="242.60" width="3.8" height="3.8" fill="#98b45a" fill-opacity="0.75" stroke="#66803a" stroke-width="0.7"/>
<text x="44.8" y="247.00" class="tbi" font-size="7">Gata1</text>
<rect x="38.8" y="255.80" width="3.8" height="3.8" fill="#78599c" fill-opacity="0.75" stroke="#4d3670" stroke-width="0.7"/>
<text x="44.8" y="260.20" class="tbi" font-size="7">Gata2</text>
<rect x="38.8" y="269.00" width="3.8" height="3.8" fill="#55a5c4" fill-opacity="0.75" stroke="#367590" stroke-width="0.7"/>
<text x="44.8" y="273.40" class="tbi" font-size="7">Pu.1</text>
<rect x="38.8" y="282.30" width="3.8" height="3.8" fill="#ea9248" fill-opacity="0.75" stroke="#a8642c" stroke-width="0.7"/>
<text x="44.8" y="286.70" class="tbi" font-size="7">c-Kit</text>
<rect x="38.8" y="295.50" width="3.8" height="3.8" fill="#383c3e" fill-opacity="0.75" stroke="#1c1e1e" stroke-width="0.7"/>
<text x="44.8" y="299.90" class="tbi" font-size="7">MyoD</text>
<text x="50.1" y="384.3" class="tb" font-size="7.7" text-anchor="middle">No Ab</text>
<text x="93.1" y="384.8" class="tb" font-size="7.7" text-anchor="middle">Cytokines</text>
<text x="93.5" y="392.3" class="tb" font-size="7.7" text-anchor="middle">Alone</text>
<text x="136.9" y="384.8" class="tb" font-size="7.7" text-anchor="middle">Cytokines+</text>
<text x="137.3" y="392.3" class="tb" font-size="7.7" text-anchor="middle">VPA</text>
<text x="179.7" y="384.8" class="tb" font-size="7.7" text-anchor="middle">Cytokines</text>
<text x="179.5" y="392.3" class="tb" font-size="7.7" text-anchor="middle">Alone</text>
<text x="222.4" y="384.8" class="tb" font-size="7.7" text-anchor="middle">Cytokines+</text>
<text x="222.2" y="392.3" class="tb" font-size="7.7" text-anchor="middle">VPA</text>
<path d="M74.6,397 Q74.6,399.5 77,399.5 L148.6,399.5 Q151,399.5 151,397" fill="none" stroke="#333" stroke-width="1"/>
<path d="M160.6,397 Q160.6,399.5 163,399.5 L234.8,399.5 Q237.2,399.5 237.2,397" fill="none" stroke="#333" stroke-width="1"/>
<text x="111.5" y="408.6" class="tb" font-size="7.9" text-anchor="middle">H3Ac9/14</text>
<text x="194.8" y="408.6" class="tb" font-size="7.9" text-anchor="middle">H3Ac27</text>
<text x="272.8" y="163.3" class="tb" font-size="10">C</text>
<text transform="translate(279.6,356.4) rotate(-90)" class="tb" font-size="9.7" word-spacing="2">Percent acetylation relative to total H3</text>
<line x1="312.20" y1="352.02" x2="312.20" y2="343.32" stroke="#3a3a3a" stroke-width="0.9"/>
<line x1="310.80" y1="343.32" x2="313.60" y2="343.32" stroke="#2a2a2a" stroke-width="1.1"/>
<rect x="309.10" y="352.02" width="6.20" height="18.58" fill="#5670b0" stroke="#34477a" stroke-width="0.6"/>
<line x1="318.40" y1="337.20" x2="318.40" y2="323.09" stroke="#3a3a3a" stroke-width="0.9"/>
<line x1="317.00" y1="323.09" x2="319.80" y2="323.09" stroke="#2a2a2a" stroke-width="1.1"/>
<rect x="315.30" y="337.20" width="6.20" height="33.40" fill="#b04a46" stroke="#7a2e2b" stroke-width="0.6"/>
<line x1="324.60" y1="321.68" x2="324.60" y2="292.98" stroke="#3a3a3a" stroke-width="0.9"/>
<line x1="323.20" y1="292.98" x2="326.00" y2="292.98" stroke="#2a2a2a" stroke-width="1.1"/>
<rect x="321.50" y="321.68" width="6.20" height="48.92" fill="#98b45a" stroke="#66803a" stroke-width="0.6"/>
<line x1="330.80" y1="331.09" x2="330.80" y2="307.10" stroke="#3a3a3a" stroke-width="0.9"/>
<line x1="329.40" y1="307.10" x2="332.20" y2="307.10" stroke="#2a2a2a" stroke-width="1.1"/>
<rect x="327.70" y="331.09" width="6.20" height="39.51" fill="#78599c" stroke="#4d3670" stroke-width="0.6"/>
<line x1="337.00" y1="340.26" x2="337.00" y2="318.86" stroke="#3a3a3a" stroke-width="0.9"/>
<line x1="335.60" y1="318.86" x2="338.40" y2="318.86" stroke="#2a2a2a" stroke-width="1.1"/>
<rect x="333.90" y="340.26" width="6.20" height="30.34" fill="#55a5c4" stroke="#367590" stroke-width="0.6"/>
<line x1="343.20" y1="336.50" x2="343.20" y2="329.68" stroke="#3a3a3a" stroke-width="0.9"/>
<line x1="341.80" y1="329.68" x2="344.60" y2="329.68" stroke="#2a2a2a" stroke-width="1.1"/>
<rect x="340.10" y="336.50" width="6.20" height="34.10" fill="#ea9248" stroke="#a8642c" stroke-width="0.6"/>
<line x1="349.40" y1="321.68" x2="349.40" y2="316.03" stroke="#3a3a3a" stroke-width="0.9"/>
<line x1="348.00" y1="316.03" x2="350.80" y2="316.03" stroke="#2a2a2a" stroke-width="1.1"/>
<rect x="346.30" y="321.68" width="6.20" height="48.92" fill="#383c3e" stroke="#1c1e1e" stroke-width="0.6"/>
<line x1="364.80" y1="275.34" x2="364.80" y2="257.23" stroke="#3a3a3a" stroke-width="0.9"/>
<line x1="363.40" y1="257.23" x2="366.20" y2="257.23" stroke="#2a2a2a" stroke-width="1.1"/>
<rect x="361.70" y="275.34" width="6.20" height="95.26" fill="#5670b0" stroke="#34477a" stroke-width="0.6"/>
<line x1="371.00" y1="285.93" x2="371.00" y2="261.23" stroke="#3a3a3a" stroke-width="0.9"/>
<line x1="369.60" y1="261.23" x2="372.40" y2="261.23" stroke="#2a2a2a" stroke-width="1.1"/>
<rect x="367.90" y="285.93" width="6.20" height="84.67" fill="#b04a46" stroke="#7a2e2b" stroke-width="0.6"/>
<line x1="377.20" y1="281.93" x2="377.20" y2="268.05" stroke="#3a3a3a" stroke-width="0.9"/>
<line x1="375.80" y1="268.05" x2="378.60" y2="268.05" stroke="#2a2a2a" stroke-width="1.1"/>
<rect x="374.10" y="281.93" width="6.20" height="88.67" fill="#98b45a" stroke="#66803a" stroke-width="0.6"/>
<line x1="383.40" y1="219.13" x2="383.40" y2="213.72" stroke="#3a3a3a" stroke-width="0.9"/>
<line x1="382.00" y1="213.72" x2="384.80" y2="213.72" stroke="#2a2a2a" stroke-width="1.1"/>
<rect x="380.30" y="219.13" width="6.20" height="151.47" fill="#78599c" stroke="#4d3670" stroke-width="0.6"/>
<line x1="389.60" y1="278.87" x2="389.60" y2="234.42" stroke="#3a3a3a" stroke-width="0.9"/>
<line x1="388.20" y1="234.42" x2="391.00" y2="234.42" stroke="#2a2a2a" stroke-width="1.1"/>
<rect x="386.50" y="278.87" width="6.20" height="91.73" fill="#55a5c4" stroke="#367590" stroke-width="0.6"/>
<line x1="395.80" y1="324.97" x2="395.80" y2="324.50" stroke="#3a3a3a" stroke-width="0.9"/>
<line x1="394.40" y1="324.50" x2="397.20" y2="324.50" stroke="#2a2a2a" stroke-width="1.1"/>
<rect x="392.70" y="324.97" width="6.20" height="45.63" fill="#ea9248" stroke="#a8642c" stroke-width="0.6"/>
<line x1="402.00" y1="316.97" x2="402.00" y2="313.68" stroke="#3a3a3a" stroke-width="0.9"/>
<line x1="400.60" y1="313.68" x2="403.40" y2="313.68" stroke="#2a2a2a" stroke-width="1.1"/>
<rect x="398.90" y="316.97" width="6.20" height="53.63" fill="#383c3e" stroke="#1c1e1e" stroke-width="0.6"/>
<line x1="417.40" y1="352.02" x2="417.40" y2="344.49" stroke="#3a3a3a" stroke-width="0.9"/>
<line x1="416.00" y1="344.49" x2="418.80" y2="344.49" stroke="#2a2a2a" stroke-width="1.1"/>
<rect x="414.30" y="352.02" width="6.20" height="18.58" fill="#5670b0" stroke="#34477a" stroke-width="0.6"/>
<line x1="423.60" y1="336.73" x2="423.60" y2="328.26" stroke="#3a3a3a" stroke-width="0.9"/>
<line x1="422.20" y1="328.26" x2="425.00" y2="328.26" stroke="#2a2a2a" stroke-width="1.1"/>
<rect x="420.50" y="336.73" width="6.20" height="33.87" fill="#b04a46" stroke="#7a2e2b" stroke-width="0.6"/>
<line x1="429.80" y1="316.27" x2="429.80" y2="310.62" stroke="#3a3a3a" stroke-width="0.9"/>
<line x1="428.40" y1="310.62" x2="431.20" y2="310.62" stroke="#2a2a2a" stroke-width="1.1"/>
<rect x="426.70" y="316.27" width="6.20" height="54.33" fill="#98b45a" stroke="#66803a" stroke-width="0.6"/>
<line x1="436.00" y1="321.44" x2="436.00" y2="308.04" stroke="#3a3a3a" stroke-width="0.9"/>
<line x1="434.60" y1="308.04" x2="437.40" y2="308.04" stroke="#2a2a2a" stroke-width="1.1"/>
<rect x="432.90" y="321.44" width="6.20" height="49.16" fill="#78599c" stroke="#4d3670" stroke-width="0.6"/>
<line x1="442.20" y1="320.74" x2="442.20" y2="297.45" stroke="#3a3a3a" stroke-width="0.9"/>
<line x1="440.80" y1="297.45" x2="443.60" y2="297.45" stroke="#2a2a2a" stroke-width="1.1"/>
<rect x="439.10" y="320.74" width="6.20" height="49.86" fill="#55a5c4" stroke="#367590" stroke-width="0.6"/>
<line x1="448.40" y1="332.73" x2="448.40" y2="331.56" stroke="#3a3a3a" stroke-width="0.9"/>
<line x1="447.00" y1="331.56" x2="449.80" y2="331.56" stroke="#2a2a2a" stroke-width="1.1"/>
<rect x="445.30" y="332.73" width="6.20" height="37.87" fill="#ea9248" stroke="#a8642c" stroke-width="0.6"/>
<line x1="454.60" y1="325.44" x2="454.60" y2="324.50" stroke="#3a3a3a" stroke-width="0.9"/>
<line x1="453.20" y1="324.50" x2="456.00" y2="324.50" stroke="#2a2a2a" stroke-width="1.1"/>
<rect x="451.50" y="325.44" width="6.20" height="45.16" fill="#383c3e" stroke="#1c1e1e" stroke-width="0.6"/>
<line x1="470.00" y1="245.71" x2="470.00" y2="192.79" stroke="#3a3a3a" stroke-width="0.9"/>
<line x1="468.60" y1="192.79" x2="471.40" y2="192.79" stroke="#2a2a2a" stroke-width="1.1"/>
<rect x="466.90" y="245.71" width="6.20" height="124.89" fill="#5670b0" stroke="#34477a" stroke-width="0.6"/>
<line x1="476.20" y1="192.32" x2="476.20" y2="176.56" stroke="#3a3a3a" stroke-width="0.9"/>
<line x1="474.80" y1="176.56" x2="477.60" y2="176.56" stroke="#2a2a2a" stroke-width="1.1"/>
<rect x="473.10" y="192.32" width="6.20" height="178.28" fill="#b04a46" stroke="#7a2e2b" stroke-width="0.6"/>
<line x1="482.40" y1="281.46" x2="482.40" y2="265.23" stroke="#3a3a3a" stroke-width="0.9"/>
<line x1="481.00" y1="265.23" x2="483.80" y2="265.23" stroke="#2a2a2a" stroke-width="1.1"/>
<rect x="479.30" y="281.46" width="6.20" height="89.14" fill="#98b45a" stroke="#66803a" stroke-width="0.6"/>
<line x1="488.60" y1="220.07" x2="488.60" y2="200.32" stroke="#3a3a3a" stroke-width="0.9"/>
<line x1="487.20" y1="200.32" x2="490.00" y2="200.32" stroke="#2a2a2a" stroke-width="1.1"/>
<rect x="485.50" y="220.07" width="6.20" height="150.53" fill="#78599c" stroke="#4d3670" stroke-width="0.6"/>
<line x1="494.80" y1="316.74" x2="494.80" y2="311.09" stroke="#3a3a3a" stroke-width="0.9"/>
<line x1="493.40" y1="311.09" x2="496.20" y2="311.09" stroke="#2a2a2a" stroke-width="1.1"/>
<rect x="491.70" y="316.74" width="6.20" height="53.86" fill="#55a5c4" stroke="#367590" stroke-width="0.6"/>
<line x1="501.00" y1="279.11" x2="501.00" y2="278.64" stroke="#3a3a3a" stroke-width="0.9"/>
<line x1="499.60" y1="278.64" x2="502.40" y2="278.64" stroke="#2a2a2a" stroke-width="1.1"/>
<rect x="497.90" y="279.11" width="6.20" height="91.49" fill="#ea9248" stroke="#a8642c" stroke-width="0.6"/>
<line x1="507.20" y1="335.32" x2="507.20" y2="334.14" stroke="#3a3a3a" stroke-width="0.9"/>
<line x1="505.80" y1="334.14" x2="508.60" y2="334.14" stroke="#2a2a2a" stroke-width="1.1"/>
<rect x="504.10" y="335.32" width="6.20" height="35.28" fill="#383c3e" stroke="#1c1e1e" stroke-width="0.6"/>
<line x1="304.4" y1="158.9" x2="304.4" y2="370.6" stroke="#444" stroke-width="1.3"/>
<line x1="303.79999999999995" y1="370.6" x2="514.8" y2="370.6" stroke="#222" stroke-width="1.4"/>
<line x1="301.4" y1="370.60" x2="304.4" y2="370.60" stroke="#444" stroke-width="1"/>
<text x="297.79999999999995" y="373.55" class="tb" font-size="8.4" text-anchor="end" fill="#222">0</text>
<line x1="301.4" y1="347.08" x2="304.4" y2="347.08" stroke="#444" stroke-width="1"/>
<text x="297.79999999999995" y="350.03" class="tb" font-size="8.4" text-anchor="end" fill="#222">10</text>
<line x1="301.4" y1="323.56" x2="304.4" y2="323.56" stroke="#444" stroke-width="1"/>
<text x="297.79999999999995" y="326.51" class="tb" font-size="8.4" text-anchor="end" fill="#222">20</text>
<line x1="301.4" y1="300.04" x2="304.4" y2="300.04" stroke="#444" stroke-width="1"/>
<text x="297.79999999999995" y="302.99" class="tb" font-size="8.4" text-anchor="end" fill="#222">30</text>
<line x1="301.4" y1="276.52" x2="304.4" y2="276.52" stroke="#444" stroke-width="1"/>
<text x="297.79999999999995" y="279.47" class="tb" font-size="8.4" text-anchor="end" fill="#222">40</text>
<line x1="301.4" y1="253.00" x2="304.4" y2="253.00" stroke="#444" stroke-width="1"/>
<text x="297.79999999999995" y="255.95" class="tb" font-size="8.4" text-anchor="end" fill="#222">50</text>
<line x1="301.4" y1="229.48" x2="304.4" y2="229.48" stroke="#444" stroke-width="1"/>
<text x="297.79999999999995" y="232.43" class="tb" font-size="8.4" text-anchor="end" fill="#222">60</text>
<line x1="301.4" y1="205.96" x2="304.4" y2="205.96" stroke="#444" stroke-width="1"/>
<text x="297.79999999999995" y="208.91" class="tb" font-size="8.4" text-anchor="end" fill="#222">70</text>
<line x1="301.4" y1="182.44" x2="304.4" y2="182.44" stroke="#444" stroke-width="1"/>
<text x="297.79999999999995" y="185.39" class="tb" font-size="8.4" text-anchor="end" fill="#222">80</text>
<line x1="301.4" y1="158.92" x2="304.4" y2="158.92" stroke="#444" stroke-width="1"/>
<text x="297.79999999999995" y="161.87" class="tb" font-size="8.4" text-anchor="end" fill="#222">90</text>
<line x1="304.40" y1="370.6" x2="304.40" y2="372.8" stroke="#444" stroke-width="1"/>
<line x1="357.00" y1="370.6" x2="357.00" y2="372.8" stroke="#444" stroke-width="1"/>
<line x1="409.60" y1="370.6" x2="409.60" y2="372.8" stroke="#444" stroke-width="1"/>
<line x1="462.20" y1="370.6" x2="462.20" y2="372.8" stroke="#444" stroke-width="1"/>
<line x1="514.80" y1="370.6" x2="514.80" y2="372.8" stroke="#444" stroke-width="1"/>
<rect x="320.6" y="166.90" width="4" height="3.8" fill="#5670b0" fill-opacity="0.75" stroke="#34477a" stroke-width="0.7"/>
<text x="326.8" y="171.00" class="tbi" font-size="6.3">Ekif</text>
<rect x="320.6" y="177.70" width="4" height="3.8" fill="#b04a46" fill-opacity="0.75" stroke="#7a2e2b" stroke-width="0.7"/>
<text x="326.8" y="181.80" class="tbi" font-size="6.3">EpoR</text>
<rect x="320.6" y="188.50" width="4" height="3.8" fill="#98b45a" fill-opacity="0.75" stroke="#66803a" stroke-width="0.7"/>
<text x="326.8" y="192.60" class="tbi" font-size="6.3">Gata1</text>
<rect x="320.6" y="199.30" width="4" height="3.8" fill="#78599c" fill-opacity="0.75" stroke="#4d3670" stroke-width="0.7"/>
<text x="326.8" y="203.40" class="tbi" font-size="6.3">Gata2</text>
<rect x="320.6" y="210.10" width="4" height="3.8" fill="#55a5c4" fill-opacity="0.75" stroke="#367590" stroke-width="0.7"/>
<text x="326.8" y="214.20" class="tbi" font-size="6.3">Pu.1</text>
<rect x="320.6" y="220.70" width="4" height="3.8" fill="#ea9248" fill-opacity="0.75" stroke="#a8642c" stroke-width="0.7"/>
<text x="326.8" y="224.80" class="tbi" font-size="6.3">c-Kit</text>
<rect x="320.6" y="231.30" width="4" height="3.8" fill="#383c3e" fill-opacity="0.75" stroke="#1c1e1e" stroke-width="0.7"/>
<text x="326.8" y="235.40" class="tbi" font-size="6.3">MyoD</text>
<text x="330.9" y="384.8" class="tb" font-size="6.75" text-anchor="middle">Cytokines</text>
<text x="331.2" y="393.3" class="tb" font-size="6.75" text-anchor="middle">Alone</text>
<text x="379.5" y="384.8" class="tb" font-size="6.75" text-anchor="middle">Cytokines+</text>
<text x="377.6" y="393.3" class="tb" font-size="6.75" text-anchor="middle">VPA</text>
<text x="436" y="384.8" class="tb" font-size="6.75" text-anchor="middle">Cytokines</text>
<text x="436.3" y="393.3" class="tb" font-size="6.75" text-anchor="middle">Alone</text>
<text x="482.5" y="384.8" class="tb" font-size="6.75" text-anchor="middle">Cytokines+</text>
<text x="483.2" y="393.3" class="tb" font-size="6.75" text-anchor="middle">VPA</text>
<path d="M306.8,394.5 Q306.8,397.5 309.5,397.5 L406.3,397.5 Q409,397.5 409,394.5" fill="none" stroke="#333" stroke-width="1.1"/>
<path d="M412,394.5 Q412,397.7 414.7,397.7 L512.9,397.7 Q515.6,397.7 515.6,394.5" fill="none" stroke="#333" stroke-width="1.1"/>
<text x="356.1" y="411.3" class="tb" font-size="8.6" text-anchor="middle">H3Ac9/14</text>
<text x="465.3" y="411" class="tb" font-size="8.6" text-anchor="middle">H3Ac27</text>
</svg>
</body></html>
